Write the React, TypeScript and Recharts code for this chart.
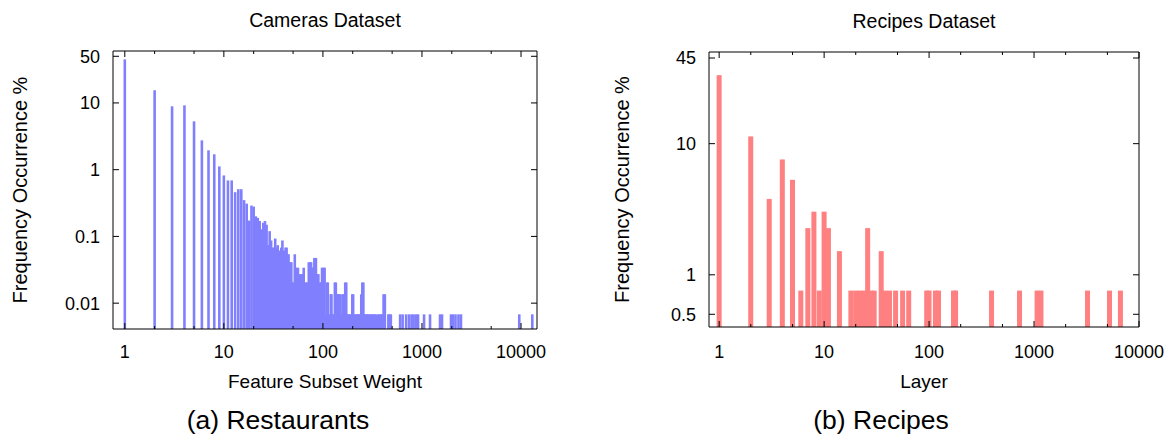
import React from 'react';
import { BarChart, Bar, XAxis, YAxis } from 'recharts';

// ---------- data ----------
const cameraWeights = [
  1, 2, 3, 4, 5, 6, 7, 8, 9, 10, 11, 12, 13, 14, 15, 16, 17, 18, 19, 20,
  21, 22, 23, 24, 25, 26, 27, 28, 29, 30, 31, 32, 33, 34, 35, 36, 37, 38, 39, 40,
  41, 42, 43, 44, 45, 46, 47, 48, 49, 50,
  52, 54, 56, 58, 60, 62, 64, 66, 68, 70, 72, 74, 76, 78, 80, 82, 85, 88, 90, 93,
  96, 98, 101, 104, 106, 110, 112, 115, 120, 122, 125, 128, 132, 135, 138, 142, 146, 150, 154, 158,
  162, 165, 168, 172, 176, 181, 186, 191, 198, 202, 208, 214, 220, 226, 232, 238, 244, 250, 256, 262,
  270, 278, 286, 295, 304, 313, 322, 332, 342, 360, 372, 384, 397, 410, 422, 458, 470, 485,
  602, 638, 692, 741, 786, 823, 872, 913, 1050, 1206, 1522, 1594, 1964, 2057, 2180, 2337, 2476,
  9600, 13000,
];
const cameraFreq = [
  45, 15.5, 8.9, 9.2, 5.3, 2.75, 1.95, 1.7, 1.12, 0.82, 0.69, 0.69, 0.46, 0.51, 0.51, 0.35, 0.31, 0.173, 0.29, 0.28,
  0.2, 0.19, 0.17, 0.128, 0.16, 0.17, 0.15, 0.074, 0.12, 0.087, 0.068, 0.068, 0.093, 0.068, 0.074, 0.061, 0.061, 0.068, 0.087, 0.061,
  0.061, 0.068, 0.068, 0.054, 0.054, 0.034, 0.041, 0.041, 0.0204, 0.0204,
  0.054, 0.034, 0.034, 0.0272, 0.0272, 0.0272, 0.034, 0.0204, 0.0204, 0.0204, 0.041, 0.041, 0.041, 0.034, 0.034, 0.0476, 0.0476, 0.0272, 0.0272, 0.0204,
  0.0204, 0.034, 0.034, 0.034, 0.0068, 0.0204, 0.0204, 0.0068, 0.0136, 0.0136, 0.0068, 0.0068, 0.0204, 0.0204, 0.0136, 0.0136, 0.0136, 0.0136, 0.0068, 0.0136,
  0.0136, 0.0068, 0.0204, 0.0204, 0.0068, 0.0068, 0.0068, 0.0068, 0.0136, 0.0136, 0.0068, 0.0068, 0.0068, 0.0068, 0.0068, 0.0068, 0.0136, 0.0204, 0.0204, 0.0068,
  0.0068, 0.0068, 0.0068, 0.0068, 0.0068, 0.0068, 0.0068, 0.0068, 0.0068, 0.0068, 0.0068, 0.0068, 0.0068, 0.0136, 0.0136, 0.0068, 0.0068, 0.0068,
  0.0068, 0.0068, 0.0068, 0.0068, 0.0068, 0.0068, 0.0068, 0.0068, 0.0068, 0.0068, 0.0068, 0.0068, 0.0068, 0.0068, 0.0068, 0.0068, 0.0068,
  0.0068, 0.0068,
];

const recipeLayers = [
  1, 2, 3, 4, 5, 6, 7, 8, 9, 10, 11, 14, 18, 20, 22, 24, 26, 28, 30, 35,
  38, 42, 48, 56, 64, 95, 100, 115, 123, 171, 179, 394, 728, 1070, 1165, 3235, 5240, 6660,
];
const recipeFreq = [
  33.3, 11.36, 3.79, 7.58, 5.3, 0.758, 2.27, 3.03, 0.758, 3.03, 2.27, 1.515, 0.758, 0.758, 0.758, 0.758, 2.27, 0.758, 0.758, 1.515,
  0.758, 0.758, 0.758, 0.758, 0.758, 0.758, 0.758, 0.758, 0.758, 0.758, 0.758, 0.758, 0.758, 0.758, 0.758, 0.758, 0.758, 0.758,
];

const cameraYTicks = [0.01, 0.1, 1, 10, 50];
const recipeYTicks = [0.5, 1, 10, 45];
const xMajorTicks = [1, 10, 100, 1000, 10000];
const xMinorTicks = [2, 5, 20, 50, 200, 500, 2000, 5000];

const FONT = '"Liberation Sans", Arial, Helvetica, sans-serif';
const TICK_FS = 18;

// ---------- tick renderers ----------
const makeBottomTick = (margin: number) => (props: any) => {
  const { x, y, payload } = props;
  const v = payload.value;
  const major = xMajorTicks.includes(v);
  const axisY = y - margin;
  return (
    <g>
      <line x1={x} x2={x} y1={axisY} y2={axisY - (major ? 6 : 3)} stroke="#000" strokeWidth={1} />
      {major && (
        <text x={x} y={y} dy="0.72em" textAnchor="middle" fontSize={TICK_FS} fontFamily={FONT} fill="#000">
          {String(v)}
        </text>
      )}
    </g>
  );
};

const TopTick = (props: any) => {
  const { x, y, payload } = props;
  const major = xMajorTicks.includes(payload.value);
  return <line x1={x} x2={x} y1={y} y2={y + (major ? 6 : 3)} stroke="#000" strokeWidth={1} />;
};

const makeLeftTick = (margin: number) => (props: any) => {
  const { x, y, payload } = props;
  const axisX = x + margin;
  return (
    <g>
      <line x1={axisX} x2={axisX + 6} y1={y} y2={y} stroke="#000" strokeWidth={1} />
      <text x={x} y={y} dy="0.36em" textAnchor="end" fontSize={TICK_FS} fontFamily={FONT} fill="#000">
        {String(payload.value)}
      </text>
    </g>
  );
};

const RightTick = (props: any) => {
  const { x, y } = props;
  return <line x1={x} x2={x - 6} y1={y} y2={y} stroke="#000" strokeWidth={1} />;
};

// bar drawn centred on the library-computed slot, with a fixed visual width
const makeBarShape = (w: number, color: string) => (props: any) => {
  const { x, y, width, height } = props;
  if (height == null || height <= 0) return <g />;
  const cx = x + width / 2;
  return <rect x={cx - w / 2} y={y} width={w} height={height} fill={color} />;
};

// ---------- panel ----------
type PanelProps = {
  weights: number[];
  freq: number[];
  color: string;
  barWidth: number;
  xDomain: [number, number];
  yDomain: [number, number];
  yTicks: number[];
  title: string;
  xLabel: string;
  width: number;
  margin: { top: number; right: number; bottom: number; left: number };
  yAxisWidth: number;
  xTickMargin: number;
  yTickMargin: number;
  xLabelOffset: number;
  yLabelOffset: number;
};

function Panel(p: PanelProps) {
  const data = p.weights.map((w, i) => ({ w, f: p.freq[i] }));
  const xTicks = [...xMajorTicks, ...xMinorTicks]
    .filter((t) => t >= p.xDomain[0] && t <= p.xDomain[1])
    .sort((a, b) => a - b);
  const axisLine = { stroke: '#000', strokeWidth: 1 };
  return (
    <BarChart width={p.width} height={435} data={data} margin={p.margin} barGap={0} barCategoryGap={0}>
      <XAxis
        xAxisId="b"
        dataKey="w"
        type="number"
        scale="log"
        domain={p.xDomain}
        allowDataOverflow
        ticks={xTicks}
        interval={0}
        tickSize={0}
        tickMargin={p.xTickMargin}
        tick={makeBottomTick(p.xTickMargin)}
        tickLine={false}
        axisLine={axisLine}
        height={60}
        label={{ value: p.xLabel, position: 'insideTop', offset: p.xLabelOffset, fontSize: 19, fill: '#000', fontFamily: FONT }}
      />
      <XAxis
        xAxisId="t"
        orientation="top"
        dataKey="w"
        type="number"
        scale="log"
        domain={p.xDomain}
        allowDataOverflow
        ticks={xTicks}
        interval={0}
        tickSize={0}
        tickMargin={0}
        tick={TopTick}
        tickLine={false}
        axisLine={axisLine}
        height={1}
        label={{ value: p.title, position: 'top', offset: 23, fontSize: 19.5, fill: '#000', fontFamily: FONT }}
      />
      <YAxis
        yAxisId="l"
        type="number"
        scale="log"
        domain={p.yDomain}
        allowDataOverflow
        ticks={p.yTicks}
        interval={0}
        tickSize={0}
        tickMargin={p.yTickMargin}
        tick={makeLeftTick(p.yTickMargin)}
        tickLine={false}
        axisLine={axisLine}
        width={p.yAxisWidth}
        label={{
          value: 'Frequency Occurrence %',
          angle: -90,
          position: 'insideLeft',
          offset: p.yLabelOffset,
          fontSize: 20,
          fill: '#000',
          fontFamily: FONT,
          style: { textAnchor: 'middle' },
        }}
      />
      <YAxis
        yAxisId="r"
        orientation="right"
        type="number"
        scale="log"
        domain={p.yDomain}
        allowDataOverflow
        ticks={p.yTicks}
        interval={0}
        tickSize={0}
        tickMargin={0}
        tick={RightTick}
        tickLine={false}
        axisLine={axisLine}
        width={1}
      />
      <Bar
        xAxisId="b"
        yAxisId="l"
        dataKey="f"
        fill={p.color}
        shape={makeBarShape(p.barWidth, p.color)}
        isAnimationActive={false}
      />
    </BarChart>
  );
}

export default function App() {
  return (
    <div
      style={{
        position: 'absolute',
        left: 0,
        top: 0,
        width: 1171,
        height: 435,
        background: '#fff',
        fontFamily: FONT,
        overflow: 'hidden',
      }}
    >
      <div style={{ position: 'absolute', left: 0, top: 0 }}>
        <Panel
          weights={cameraWeights}
          freq={cameraFreq}
          color="#8080ff"
          barWidth={2.6}
          xDomain={[0.76, 14500]}
          yDomain={[0.0041, 60]}
          yTicks={cameraYTicks}
          title="Cameras Dataset"
          xLabel="Feature Subset Weight"
          width={585}
          margin={{ top: 50, right: 47, bottom: 46, left: 0 }}
          yAxisWidth={113}
          xTickMargin={16}
          yTickMargin={13}
          xLabelOffset={46}
          yLabelOffset={20}
        />
      </div>
      <div style={{ position: 'absolute', left: 585, top: 0 }}>
        <Panel
          weights={recipeLayers}
          freq={recipeFreq}
          color="#ff8080"
          barWidth={5}
          xDomain={[0.8, 10000]}
          yDomain={[0.4, 50]}
          yTicks={recipeYTicks}
          title="Recipes Dataset"
          xLabel="Layer"
          width={586}
          margin={{ top: 51, right: 31, bottom: 48, left: 0 }}
          yAxisWidth={124}
          xTickMargin={18}
          yTickMargin={13}
          xLabelOffset={48}
          yLabelOffset={37}
        />
      </div>
      <svg width={1171} height={435} style={{ position: 'absolute', left: 0, top: 0, pointerEvents: 'none' }}>
        <text x={278} y={429} textAnchor="middle" fontSize={26.5} fontFamily={FONT} fill="#000">
          (a) Restaurants
        </text>
        <text x={881} y={429} textAnchor="middle" fontSize={26.5} fontFamily={FONT} fill="#000">
          (b) Recipes
        </text>
      </svg>
    </div>
  );
}
